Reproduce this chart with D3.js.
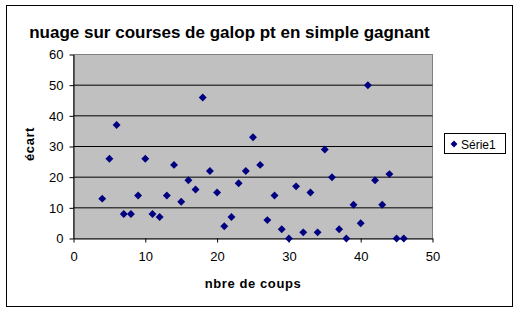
<!DOCTYPE html>
<html>
<head>
<meta charset="utf-8">
<script src="https://cdn.jsdelivr.net/npm/d3@7"></script>
<style>
  body { margin: 0; background: #fff; }
  svg { display: block; font-family: "Liberation Sans", Arial, sans-serif; }
</style>
</head>
<body>
<svg width="520" height="313"></svg>
<script>
// nombre de coups / écart
const coups = [4, 5, 6, 7, 8, 9, 10, 11, 12, 13, 14, 15, 16, 17, 18, 19, 20, 21, 22, 23, 24, 25,
    26, 27, 28, 29, 30, 31, 32, 33, 34, 35, 36, 37, 38, 39, 40, 41, 42, 43, 44, 45, 46]
const ecart = [13, 26, 37, 8, 8, 14, 26, 8, 7, 14, 24, 12, 19, 16, 46, 22, 15, 4, 7, 18, 22, 33,
    24, 6, 14, 3, 0, 17, 2, 15, 2, 29, 20, 3, 0, 11, 5, 50, 19, 11, 21, 0, 0]
const xTicks = [0, 10, 20, 30, 40, 50]
const yTicks = [0, 10, 20, 30, 40, 50, 60]

const points = coups.map((c, i) => ({x: c, y: ecart[i]}))

const svg = d3.select("svg")

// chart border
svg.append("rect")
    .attr("x", 6.5).attr("y", 5.5)
    .attr("width", 506).attr("height", 301)
    .attr("fill", "white")
    .attr("stroke", "black")

const scaleX = d3.scaleLinear().domain([0, 50]).range([73.5, 432.5])
const scaleY = d3.scaleLinear().domain([0, 60]).range([238.5, 54.5])

// plot area
svg.append("rect")
    .attr("x", scaleX(0)).attr("y", scaleY(60))
    .attr("width", scaleX(50) - scaleX(0))
    .attr("height", scaleY(0) - scaleY(60))
    .attr("fill", "#c0c0c0")
    .attr("stroke", "#808080")

// horizontal grid
svg.append("g")
    .selectAll("line")
    .data(yTicks.filter(d => d > 0 && d < 60))
    .enter()
    .append("line")
    .attr("x1", scaleX(0)).attr("x2", scaleX(50))
    .attr("y1", d => scaleY(d)).attr("y2", d => scaleY(d))
    .attr("stroke", "black")

const axisX = d3.axisBottom(scaleX)
    .tickValues(xTicks)
    .tickSizeInner(4)
    .tickSizeOuter(0)
    .tickPadding(9)
const axisXGroup = svg.append("g")
    .attr("transform", `translate(0, ${scaleY(0)})`)
    .call(axisX)

const axisY = d3.axisLeft(scaleY)
    .tickValues(yTicks)
    .tickSizeInner(4)
    .tickSizeOuter(0)
    .tickPadding(6)
const axisYGroup = svg.append("g")
    .attr("transform", `translate(${scaleX(0)}, 0)`)
    .call(axisY)

svg.selectAll(".domain, .tick line").attr("stroke", "black")
svg.selectAll(".tick text")
    .attr("font-family", "'Liberation Sans', Arial, sans-serif")
    .attr("font-size", 13)
    .attr("fill", "black")

// points
svg.append("g")
    .selectAll("path")
    .data(points)
    .enter()
    .append("path")
    .attr("d", d3.symbol(d3.symbolDiamond2, 40))
    .attr("transform", d => `translate(${scaleX(d.x)}, ${scaleY(d.y)})`)
    .attr("fill", "#000080")

// titles
svg.append("text")
    .attr("x", 229.5).attr("y", 38)
    .attr("text-anchor", "middle")
    .attr("font-size", 17)
    .attr("font-weight", "bold")
    .text("nuage sur courses de galop pt en simple gagnant")

svg.append("text")
    .attr("x", 253).attr("y", 288)
    .attr("text-anchor", "middle")
    .attr("font-size", 13)
    .attr("font-weight", "bold")
    .attr("letter-spacing", 0.6)
    .text("nbre de coups")

svg.append("text")
    .attr("transform", "translate(34, 144) rotate(-90)")
    .attr("text-anchor", "middle")
    .attr("font-size", 13)
    .attr("font-weight", "bold")
    .attr("letter-spacing", 0.6)
    .text("écart")

// legend
const legend = svg.append("g")
legend.append("rect")
    .attr("x", 444.5).attr("y", 133.5)
    .attr("width", 61).attr("height", 20)
    .attr("fill", "white")
    .attr("stroke", "black")
legend.append("path")
    .attr("d", d3.symbol(d3.symbolDiamond2, 30))
    .attr("transform", "translate(454, 144)")
    .attr("fill", "#000080")
legend.append("text")
    .attr("x", 461).attr("y", 148.5)
    .attr("font-size", 12)
    .text("Série1")
</script>
</body>
</html>
